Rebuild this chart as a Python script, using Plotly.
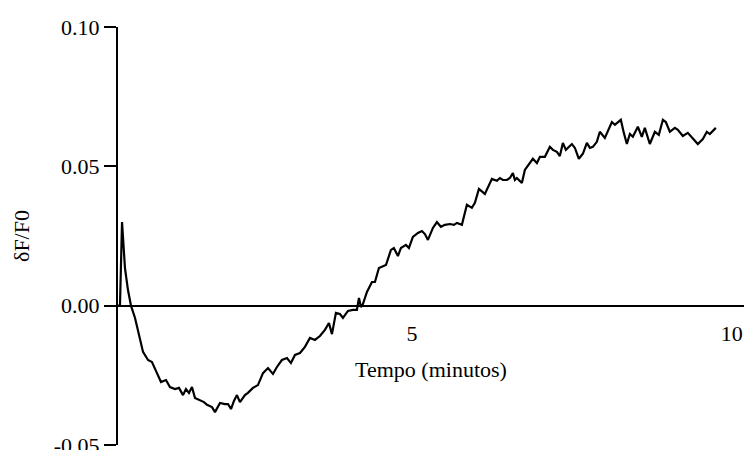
import plotly.graph_objects as go

# Time (minutes)
tempo = [0.406, 0.437, 0.469, 0.515, 0.562, 0.609, 0.672, 0.719, 0.797, 0.875,
         0.937, 1.015, 1.078, 1.156, 1.218, 1.297, 1.359, 1.422, 1.468, 1.515,
         1.562, 1.609, 1.687, 1.750, 1.797, 1.875, 1.922, 2.000, 2.078, 2.125,
         2.172, 2.218, 2.265, 2.312, 2.390, 2.437, 2.515, 2.593, 2.672, 2.750,
         2.828, 2.890, 2.968, 3.047, 3.109, 3.172, 3.250, 3.328, 3.406, 3.484,
         3.562, 3.640, 3.703, 3.750, 3.812, 3.875, 3.922, 4.000, 4.078, 4.140,
         4.172, 4.203, 4.234, 4.297, 4.375, 4.422, 4.484, 4.547, 4.594, 4.672,
         4.718, 4.781, 4.828, 4.906, 4.953, 5.015, 5.094, 5.156, 5.203, 5.250,
         5.328, 5.390, 5.453, 5.515, 5.594, 5.656, 5.703, 5.781, 5.859, 5.937,
         5.984, 6.047, 6.140, 6.250, 6.328, 6.375, 6.422, 6.484, 6.531, 6.578,
         6.609, 6.640, 6.718, 6.765, 6.843, 6.890, 6.953, 7.000, 7.078, 7.156,
         7.203, 7.265, 7.312, 7.359, 7.406, 7.500, 7.547, 7.609, 7.672, 7.734,
         7.781, 7.828, 7.890, 7.937, 8.015, 8.125, 8.172, 8.265, 8.312, 8.359,
         8.406, 8.453, 8.531, 8.593, 8.640, 8.718, 8.797, 8.859, 8.922, 8.968,
         9.031, 9.109, 9.156, 9.234, 9.312, 9.422, 9.468, 9.547, 9.609, 9.656,
         9.750]

# dF/F0
df_f0 = [0.0000, 0.0000, 0.0300, 0.0135, 0.0056, 0.0000, -0.0044, -0.0094, -0.0166, -0.0195,
         -0.0202, -0.0242, -0.0274, -0.0267, -0.0292, -0.0299, -0.0295, -0.0321, -0.0299, -0.0313,
         -0.0292, -0.0331, -0.0339, -0.0346, -0.0356, -0.0364, -0.0382, -0.0349, -0.0353, -0.0353,
         -0.0371, -0.0342, -0.0321, -0.0346, -0.0321, -0.0313, -0.0295, -0.0285, -0.0242, -0.0224,
         -0.0245, -0.0220, -0.0195, -0.0188, -0.0206, -0.0177, -0.0170, -0.0148, -0.0116, -0.0123,
         -0.0109, -0.0087, -0.0062, -0.0102, -0.0026, -0.0030, -0.0044, -0.0019, -0.0015, -0.0015,
         0.0028, -0.0005, 0.0006, 0.0049, 0.0085, 0.0085, 0.0135, 0.0143, 0.0146, 0.0200,
         0.0207, 0.0178, 0.0207, 0.0218, 0.0207, 0.0247, 0.0261, 0.0268, 0.0257, 0.0236,
         0.0279, 0.0300, 0.0283, 0.0290, 0.0293, 0.0290, 0.0297, 0.0290, 0.0362, 0.0351,
         0.0369, 0.0419, 0.0401, 0.0455, 0.0448, 0.0458, 0.0451, 0.0451, 0.0458, 0.0476,
         0.0451, 0.0458, 0.0440, 0.0487, 0.0512, 0.0527, 0.0512, 0.0534, 0.0534, 0.0570,
         0.0559, 0.0552, 0.0537, 0.0584, 0.0559, 0.0580, 0.0566, 0.0527, 0.0545, 0.0584,
         0.0566, 0.0570, 0.0588, 0.0624, 0.0602, 0.0659, 0.0649, 0.0667, 0.0620, 0.0580,
         0.0616, 0.0606, 0.0642, 0.0606, 0.0638, 0.0580, 0.0624, 0.0613, 0.0667, 0.0659,
         0.0624, 0.0638, 0.0631, 0.0609, 0.0620, 0.0591, 0.0580, 0.0598, 0.0624, 0.0616,
         0.0638]

x_tickvals = [5, 10]
x_ticktext = ["5", "10"]
y_tickvals = [-0.05, 0.0, 0.05, 0.10]
y_ticktext = ["-0.05", "0.00", "0.05", "0.10"]

FONT = "Liberation Serif, Times New Roman, serif"
FS = 22

fig = go.Figure()
fig.add_trace(go.Scatter(x=tempo, y=df_f0, mode="lines",
                         line=dict(color="black", width=2.2), showlegend=False))

fig.update_layout(
    width=744, height=450,
    margin=dict(l=118, r=0, t=27, b=5, autoexpand=False),
    paper_bgcolor="white", plot_bgcolor="white",
    font=dict(family=FONT, size=FS, color="black"),
    xaxis=dict(
        range=[0.406, 10.19], anchor="free", position=1/3,
        showline=True, linecolor="black", linewidth=2,
        showgrid=False, zeroline=False,
        tickvals=x_tickvals, ticktext=x_ticktext,
        ticks="", ticklabelstandoff=8, ticklabeloverflow="allow",
        tickfont=dict(family=FONT, size=FS),
        title=dict(text="Tempo (minutos)", standoff=16,
                   font=dict(family=FONT, size=FS)),
        automargin=False,
    ),
    yaxis=dict(
        range=[-0.05, 0.10], domain=[0, 1],
        showline=True, linecolor="black", linewidth=2,
        showgrid=False, zeroline=False,
        tickvals=y_tickvals, ticktext=y_ticktext,
        ticks="outside", ticklen=12, tickwidth=2, tickcolor="black",
        ticklabeloverflow="allow",
        tickfont=dict(family=FONT, size=FS),
        title=dict(text="δF/F0", standoff=18, font=dict(family=FONT, size=FS)),
        automargin=False,
    ),
)

fig.write_html("out.html")
